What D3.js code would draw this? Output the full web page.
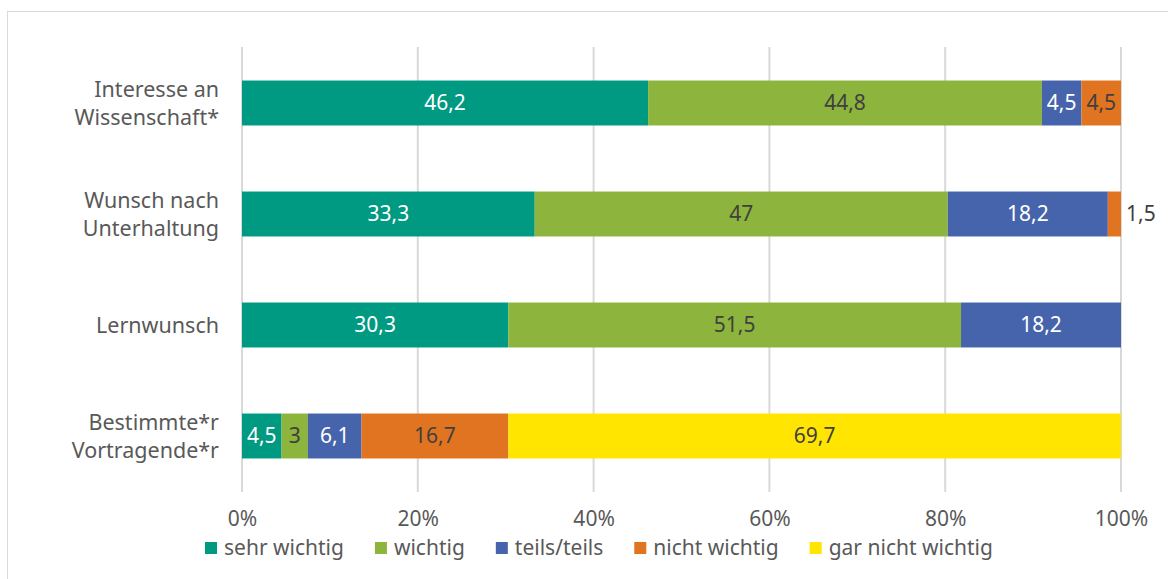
<!DOCTYPE html>
<html><head><meta charset="utf-8">
<script src="https://cdn.jsdelivr.net/npm/d3@7"></script>
<style>body{margin:0;background:#fff}svg{display:block}text{font-family:"Noto Sans",Lato,sans-serif}</style>
</head><body><div id="chart"></div>
<script>
const categories = [["Interesse an","Wissenschaft*"],["Wunsch nach","Unterhaltung"],["Lernwunsch"],["Bestimmte*r","Vortragende*r"]];
const seriesNames = ["sehr wichtig","wichtig","teils/teils","nicht wichtig","gar nicht wichtig"];
const sehrWichtig = [46.2, 33.3, 30.3, 4.5];
const wichtig = [44.8, 47, 51.5, 3];
const teilsTeils = [4.5, 18.2, 18.2, 6.1];
const nichtWichtig = [4.5, 1.5, 0, 16.7];
const garNichtWichtig = [0, 0, 0, 69.7];
const tickValues = [0, 20, 40, 60, 80, 100];

const colors = ["#009981","#8db43d","#4664ab","#e07420","#ffe500"];
const labelColors = ["#fff","#404040","#fff","#404040","#404040"];
const seriesData = [sehrWichtig, wichtig, teilsTeils, nichtWichtig, garNichtWichtig];
const FS = 21;

const W = 1168, H = 579;
const svg = d3.select("#chart").append("svg").attr("width", W).attr("height", H);
svg.append("rect").attr("x",7.5).attr("y",11.5).attr("width",W).attr("height",H).attr("fill","none").attr("stroke","#d9d9d9");

const x = d3.scaleLinear().domain([0,100]).range([242,1121]);
const y = d3.scaleBand().domain(d3.range(categories.length)).range([47.5,491.5]).paddingInner(0.595).paddingOuter(0.2975);

svg.append("g").selectAll("line").data(tickValues).join("line")
  .attr("x1",d=>x(d)).attr("x2",d=>x(d)).attr("y1",47).attr("y2",492)
  .attr("stroke","#d9d9d9").attr("stroke-width",2);

const stack = d3.stack().keys(d3.range(seriesNames.length)).value((d,k)=>seriesData[k][d]);
const stacked = stack(d3.range(categories.length));

const g = svg.append("g");
stacked.forEach((layer,k)=>{
  g.selectAll(null).data(layer.map((d,i)=>({d,i}))).join("rect")
    .filter(o=>seriesData[k][o.i]>0)
    .attr("x",o=>x(o.d[0])).attr("width",o=>x(o.d[1])-x(o.d[0]))
    .attr("y",o=>y(o.i)).attr("height",y.bandwidth())
    .attr("fill",colors[k]);
});
stacked.forEach((layer,k)=>{
  layer.forEach((d,i)=>{
    const v = seriesData[k][i];
    if(!(v>0)) return;
    const w = x(d[1])-x(d[0]);
    const outside = w < 20;
    svg.append("text")
      .attr("x", outside ? x(d[1])+5 : (x(d[0])+x(d[1]))/2)
      .attr("y", y(i)+y.bandwidth()/2)
      .attr("dy","0.35em")
      .attr("text-anchor", outside ? "start" : "middle")
      .attr("font-size",FS)
      .attr("fill", outside ? "#404040" : labelColors[k])
      .text(String(v).replace(".",","));
  });
});

categories.forEach((lines,i)=>{
  const cy = y(i)+y.bandwidth()/2;
  const t = svg.append("text").attr("text-anchor","end").attr("font-size",FS+0.5).attr("fill","#595959");
  lines.forEach((ln,j)=>{
    t.append("tspan").attr("x",219).attr("y", cy + (j-(lines.length-1)/2)*28).attr("dy","0.35em").text(ln);
  });
});

const axis = d3.axisBottom(x).tickValues(tickValues).tickFormat(d=>d+"%").tickSize(0).tickPadding(0);
const ag = svg.append("g").attr("transform","translate(0,511)").call(axis);
ag.select(".domain").remove();
ag.selectAll("text").attr("font-size",FS).attr("fill","#595959").attr("font-family","'Noto Sans',Lato,sans-serif");

const lg = svg.append("g");
let lx = 205;
seriesNames.forEach((n,k)=>{
  lg.append("rect").attr("x",lx).attr("y",542).attr("width",12).attr("height",12).attr("fill",colors[k]);
  const t = lg.append("text").attr("x",lx+19).attr("y",548).attr("dy","0.35em").attr("font-size",FS).attr("fill","#595959").text(n);
  lx += 19 + t.node().getComputedTextLength() + 31;
});
</script></body></html>
